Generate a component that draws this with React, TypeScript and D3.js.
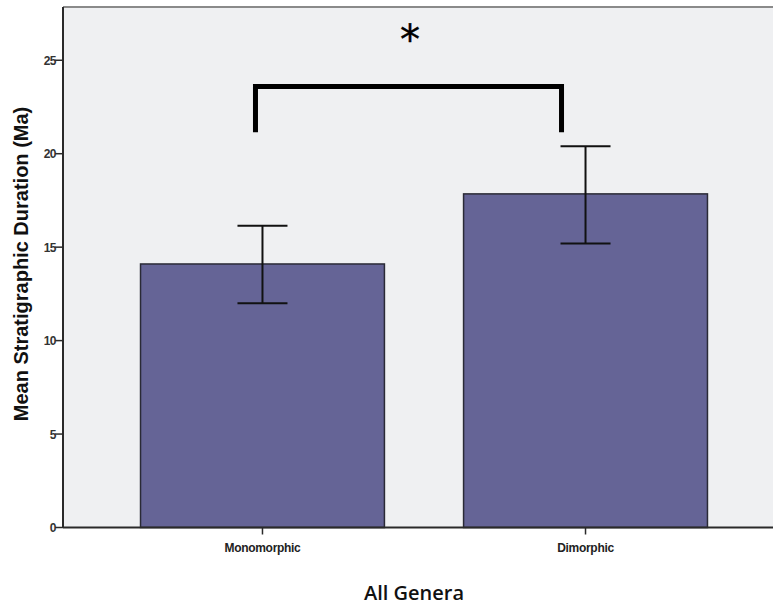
import React from 'react';
import * as d3 from 'd3';

// data
const groups = ['Monomorphic', 'Dimorphic'];
const means = [14.1, 17.85];
const errLow = [12.0, 15.2];
const errHigh = [16.15, 20.4];
const yTicks = [0, 5, 10, 15, 20, 25];
const bracketLevels = [21.15, 23.6]; // bottom of legs, top bar

const W = 773;
const H = 608;
const left = 63;
const top = 7;
const bottom = 527.5;

const App = () => {
    const x = d3.scaleBand<string>()
        .domain(groups)
        .range([left, 785])
        .paddingInner(0.245)
        .paddingOuter(0.24);

    const y = d3.scaleLinear()
        .domain([0, 27.85])
        .range([bottom, top]);

    const bw = x.bandwidth();
    const cx = (g: string) => (x(g) || 0) + bw / 2;
    const capHalf = 25;

    // bracket sits a little left of the bar centres
    const bl = cx(groups[0]) - 7;
    const br = cx(groups[1]) - 24;

    return (
        <svg width={W} height={H} style={{ position: 'absolute', left: 0, top: 0 }}>
            <rect x={left} y={top} width={W - left} height={bottom - top} fill="#eff0f2" />
            {/* top frame */}
            <line x1={left} x2={W} y1={top} y2={top} stroke="#8a8a8a" strokeWidth={2} />

            {groups.map((g, i) => (
                <rect key={g} x={x(g)} y={y(means[i])} width={bw} height={bottom - y(means[i])}
                    fill="#656496" stroke="#2a2a36" strokeWidth={1.5} />
            ))}

            {groups.map((g, i) => (
                <g key={g + '-err'} stroke="#111" strokeWidth={2}>
                    <line x1={cx(g)} x2={cx(g)} y1={y(errLow[i])} y2={y(errHigh[i])} />
                    <line x1={cx(g) - capHalf} x2={cx(g) + capHalf} y1={y(errLow[i])} y2={y(errLow[i])} />
                    <line x1={cx(g) - capHalf} x2={cx(g) + capHalf} y1={y(errHigh[i])} y2={y(errHigh[i])} />
                </g>
            ))}

            {/* significance bracket */}
            <path d={`M${bl},${y(bracketLevels[0])}V${y(bracketLevels[1])}H${br}V${y(bracketLevels[0])}`}
                fill="none" stroke="#000" strokeWidth={5} />
            <text x={410} y={54} textAnchor="middle" fontFamily="DejaVu Sans" fontSize={40}
                stroke="#000" strokeWidth={0.4}>*</text>

            {/* y axis */}
            <line x1={left} x2={left} y1={top} y2={bottom} stroke="#2a2a2a" strokeWidth={2} />
            {yTicks.map(t => (
                <g key={t}>
                    <line x1={left - 8} x2={left} y1={y(t)} y2={y(t)} stroke="#2a2a2a" strokeWidth={1.5} />
                    <text x={left - 7} y={y(t) + 4.5} textAnchor="end" fontFamily="Liberation Sans"
                        fontWeight="bold" fontSize={12} letterSpacing={-0.5} fill="#333">{t}</text>
                </g>
            ))}

            {/* x axis */}
            <line x1={left} x2={W} y1={bottom} y2={bottom} stroke="#2a2a2a" strokeWidth={2} />
            {groups.map(g => (
                <g key={g + '-tick'}>
                    <line x1={cx(g)} x2={cx(g)} y1={bottom} y2={bottom + 7} stroke="#2a2a2a" strokeWidth={1.5} />
                    <text x={cx(g)} y={552} textAnchor="middle" fontFamily="Liberation Sans"
                        fontWeight="bold" fontSize={12} letterSpacing={-0.3} fill="#222">{g}</text>
                </g>
            ))}

            <text x={414} y={600} textAnchor="middle" fontFamily="Open Sans" fontWeight={600}
                fontSize={20} fill="#111">All Genera</text>
            <text transform="translate(28,264) rotate(-90)" textAnchor="middle" fontFamily="Liberation Sans"
                fontWeight="bold" fontSize={20} fill="#111">Mean Stratigraphic Duration (Ma)</text>
        </svg>
    );
};

export default App;
